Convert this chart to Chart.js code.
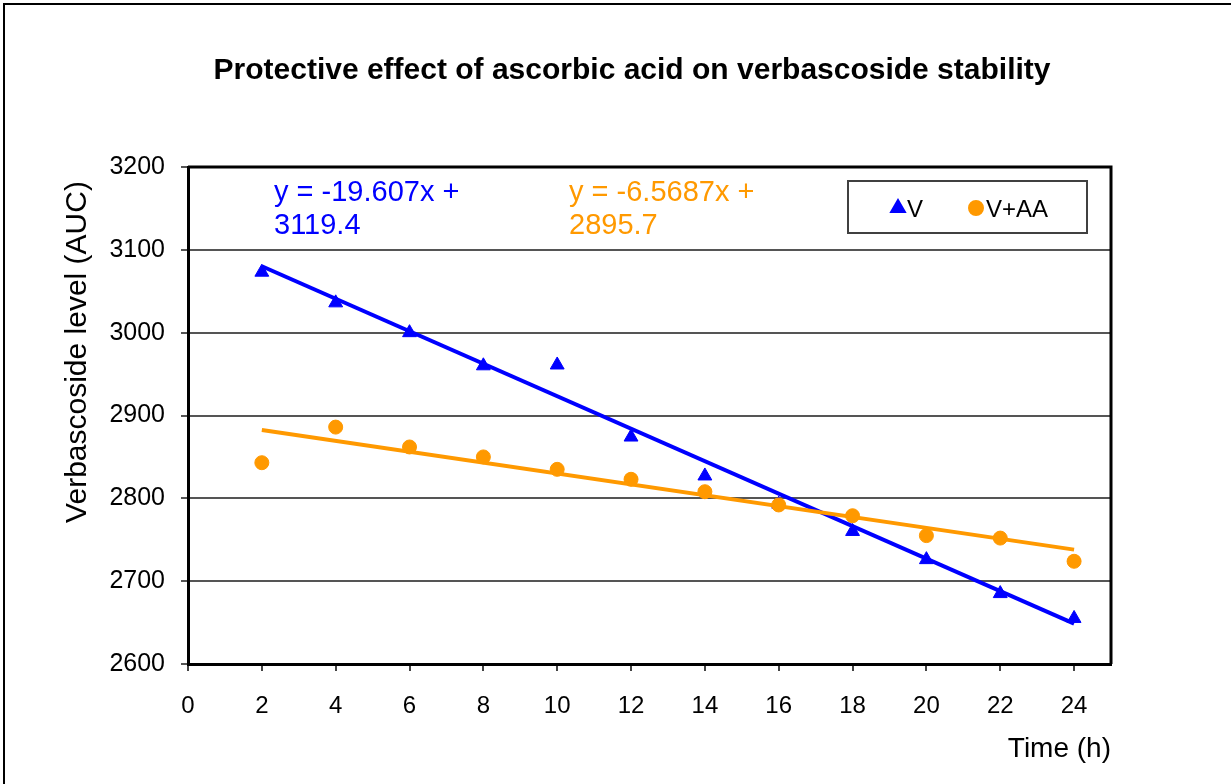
<!DOCTYPE html>
<html>
<head>
<meta charset="utf-8">
<title>Verbascoside stability</title>
<script src="https://cdn.jsdelivr.net/npm/chart.js@4.4.1/dist/chart.umd.min.js"></script>
<style>
  html, body { margin: 0; padding: 0; background: #fff; }
  #chartBox { width: 1231px; height: 784px; position: relative; }
</style>
</head>
<body>
<div id="chartBox"><canvas id="stabilityChart" width="1231" height="784"></canvas></div>
<script>
// Values
const hours = [2, 4, 6, 8, 10, 12, 14, 16, 18, 20, 22, 24];
const vLevel = [3073, 3036, 3000, 2960, 2961, 2874, 2827, 2793, 2760, 2726, 2685, 2655];
const vaaLevel = [2843, 2886, 2862, 2850, 2835, 2823, 2808, 2792, 2779, 2755, 2752, 2724];

// Linear trendlines (end points at first and last hour)
const trendHours = [2, 24];
const vTrend = [3080.2, 2648.8];
const vaaTrend = [2882.6, 2738.1];

// Tick labels
const xTicks = [0, 2, 4, 6, 8, 10, 12, 14, 16, 18, 20, 22, 24];

const seriesNames = ['V', 'V+AA'];
const vEquation = ['y = -19.607x +', '3119.4'];
const vaaEquation = ['y = -6.5687x +', '2895.7'];

const chartTitle = 'Protective effect of ascorbic acid on verbascoside stability';
const yTitle = 'Verbascoside level (AUC)';
const xTitle = 'Time (h)';

const BLUE = '#0000ff';
const ORANGE = '#ff9900';
const FONT = "'Liberation Sans', Arial, sans-serif";

function toPoints(xs, ys) {
  return xs.map((x, i) => ({ x: x, y: ys[i] }));
}

/**
 * Draws title, frames, y axis title, equations and the legend box
 */
const decorations = {
  id: 'decorations',
  beforeDraw(chart) {
    const ctx = chart.ctx;
    ctx.save();
    ctx.fillStyle = '#fff';
    ctx.fillRect(0, 0, chart.width, chart.height);
    // outer frame (only left and top visible in the picture)
    ctx.strokeStyle = '#000';
    ctx.lineWidth = 2;
    ctx.beginPath();
    ctx.moveTo(4, chart.height + 10);
    ctx.lineTo(4, 4);
    ctx.lineTo(chart.width + 10, 4);
    ctx.stroke();
    // title
    ctx.fillStyle = '#000';
    ctx.font = 'bold 30px ' + FONT;
    ctx.textAlign = 'center';
    ctx.textBaseline = 'middle';
    ctx.fillText(chartTitle, 632, 71);
    // y axis title
    ctx.translate(78, 352);
    ctx.rotate(-Math.PI / 2);
    ctx.font = '30px ' + FONT;
    ctx.fillText(yTitle, 0, 0);
    ctx.restore();
  },
  afterDraw(chart) {
    const ctx = chart.ctx;
    const area = chart.chartArea;
    ctx.save();
    // top and right plot border
    ctx.strokeStyle = '#000';
    ctx.lineWidth = 3;
    ctx.beginPath();
    ctx.moveTo(area.left, area.top);
    ctx.lineTo(area.right, area.top);
    ctx.lineTo(area.right, area.bottom);
    ctx.stroke();

    // trendline equations
    ctx.font = '29px ' + FONT;
    ctx.textAlign = 'left';
    ctx.textBaseline = 'middle';
    ctx.fillStyle = BLUE;
    vEquation.forEach((line, i) => ctx.fillText(line, 274, 193 + i * 33));
    ctx.fillStyle = ORANGE;
    vaaEquation.forEach((line, i) => ctx.fillText(line, 569, 193 + i * 33));

    // legend box
    ctx.fillStyle = '#fff';
    ctx.fillRect(848, 181, 239, 52);
    ctx.strokeStyle = '#404040';
    ctx.lineWidth = 2;
    ctx.strokeRect(848, 181, 239, 52);
    const legendY = 208;
    ctx.fillStyle = BLUE;
    ctx.strokeStyle = BLUE;
    Chart.helpers.drawPoint(ctx, { pointStyle: 'triangle', radius: 8, borderWidth: 1, rotation: 0 }, 898, legendY);
    ctx.fillStyle = ORANGE;
    ctx.strokeStyle = ORANGE;
    Chart.helpers.drawPoint(ctx, { pointStyle: 'circle', radius: 7, borderWidth: 1, rotation: 0 }, 976, legendY);
    ctx.fillStyle = '#000';
    ctx.font = '24px ' + FONT;
    ctx.fillText(seriesNames[0], 907, legendY + 2);
    ctx.fillText(seriesNames[1], 986, legendY + 2);
    ctx.restore();
  }
};

const ctx = document.getElementById('stabilityChart');

new Chart(ctx, {
  type: 'scatter',
  data: {
    datasets: [
      {
        label: seriesNames[0],
        data: toPoints(hours, vLevel),
        pointStyle: 'triangle',
        pointRadius: 8,
        backgroundColor: BLUE,
        borderColor: BLUE,
        borderWidth: 1,
        showLine: false,
        order: 3
      },
      {
        label: seriesNames[1],
        data: toPoints(hours, vaaLevel),
        pointStyle: 'circle',
        pointRadius: 7,
        backgroundColor: ORANGE,
        borderColor: ORANGE,
        borderWidth: 1,
        showLine: false,
        order: 2
      },
      {
        label: 'Linear (V)',
        data: toPoints(trendHours, vTrend),
        showLine: true,
        pointRadius: 0,
        borderColor: BLUE,
        borderWidth: 4,
        order: 1
      },
      {
        label: 'Linear (V+AA)',
        data: toPoints(trendHours, vaaTrend),
        showLine: true,
        pointRadius: 0,
        borderColor: ORANGE,
        borderWidth: 4,
        order: 0
      }
    ]
  },
  options: {
    responsive: false,
    animation: false,
    devicePixelRatio: 1,
    layout: {
      padding: { top: 167, right: 120, bottom: 16, left: 0 }
    },
    plugins: {
      legend: { display: false },
      tooltip: { enabled: false }
    },
    scales: {
      x: {
        type: 'linear',
        min: 0,
        max: 25,
        afterBuildTicks: scale => {
          scale.ticks = xTicks.map(v => ({ value: v }));
        },
        afterFit: scale => { scale.height = 104; },
        ticks: {
          color: '#000',
          padding: 21,
          font: { family: FONT, size: 24 },
          callback: value => String(value)
        },
        grid: {
          drawOnChartArea: false,
          drawTicks: true,
          tickLength: 7,
          color: '#444',
          lineWidth: 2
        },
        border: { color: '#000', width: 3 },
        title: {
          display: true,
          text: xTitle,
          align: 'end',
          color: '#000',
          padding: { top: 4, bottom: 2 },
          font: { family: FONT, size: 28 }
        }
      },
      y: {
        min: 2600,
        max: 3200,
        afterFit: scale => { scale.width = 188; },
        ticks: {
          stepSize: 100,
          color: '#000',
          padding: 16,
          font: { family: FONT, size: 25 },
          callback: value => String(value)
        },
        grid: {
          color: '#555',
          lineWidth: 2,
          tickLength: 7
        },
        border: { color: '#000', width: 3 }
      }
    }
  },
  plugins: [decorations]
});
</script>
</body>
</html>
